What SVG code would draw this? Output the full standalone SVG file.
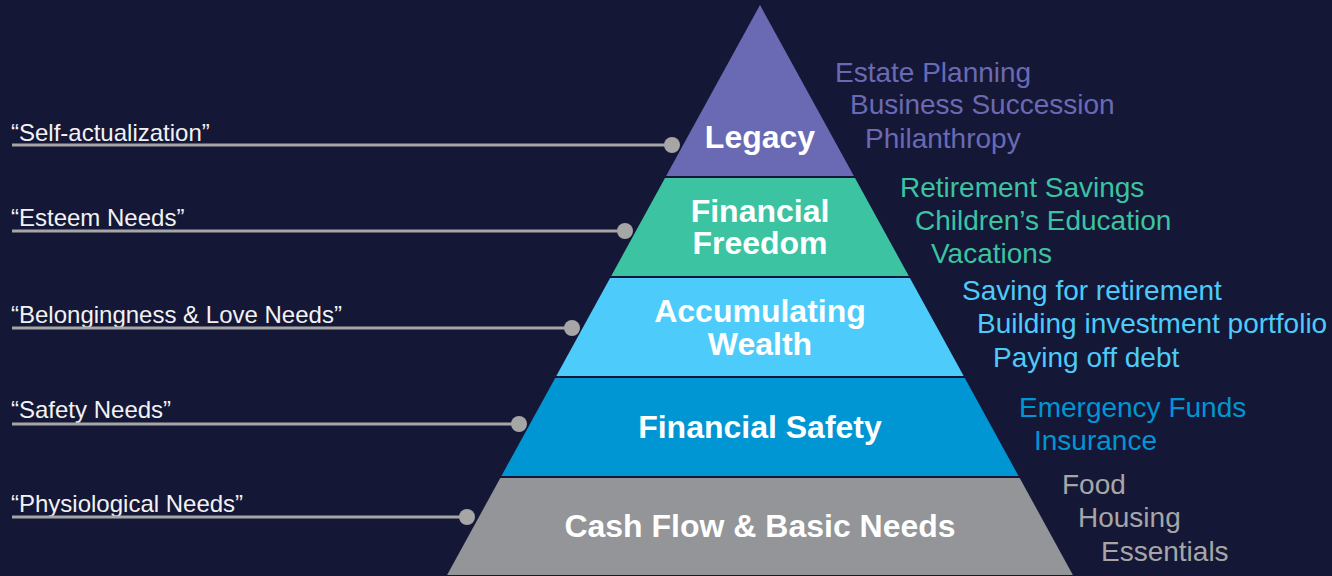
<svg xmlns="http://www.w3.org/2000/svg" width="1332" height="576" viewBox="0 0 1332 576">
  <style>
    .tier-label { font-family: "Liberation Sans", Arial, sans-serif; font-weight: bold; font-size: 32px; fill: #ffffff; text-anchor: middle; }
    .need { font-family: "Liberation Sans", Arial, sans-serif; font-size: 24px; fill: #f2f2f2; }
    .item { font-family: "Liberation Sans", Arial, sans-serif; font-size: 28px; }
    .leader { stroke: #a6a6a6; stroke-width: 3; fill: none; }
    .dot { fill: #a6a6a6; }
  </style>

  <!-- background -->
  <rect x="0" y="0" width="1332" height="576" fill="#151737"/>

  <!-- pyramid tiers -->
  <g id="tier-legacy">
    <polygon points="760,5 853.9,176 666.1,176" fill="#6a6ab4"/>
    <text class="tier-label" x="760" y="148">Legacy</text>
    <g class="item" fill="#6a6ab4">
      <text x="835" y="82">Estate Planning</text>
      <text x="850" y="114">Business Succession</text>
      <text x="865" y="148">Philanthropy</text>
    </g>
  </g>

  <g id="tier-freedom">
    <polygon points="665,178 855,178 908.8,276 611.2,276" fill="#3cc3a2"/>
    <text class="tier-label" x="760" y="222">Financial</text>
    <text class="tier-label" x="760" y="254">Freedom</text>
    <g class="item" fill="#3cc3a2">
      <text x="900" y="197">Retirement Savings</text>
      <text x="915" y="230">Children’s Education</text>
      <text x="931" y="263">Vacations</text>
    </g>
  </g>

  <g id="tier-wealth">
    <polygon points="610.1,278 909.9,278 963.7,376 556.3,376" fill="#4dcbfa"/>
    <text class="tier-label" x="760" y="322">Accumulating</text>
    <text class="tier-label" x="760" y="355">Wealth</text>
    <g class="item" fill="#4dcbfa">
      <text x="962" y="300">Saving for retirement</text>
      <text x="977" y="333">Building investment portfolio</text>
      <text x="993" y="367">Paying off debt</text>
    </g>
  </g>

  <g id="tier-safety">
    <polygon points="555.2,378 964.8,378 1018.6,476 501.4,476" fill="#0095d3"/>
    <text class="tier-label" x="760" y="438">Financial Safety</text>
    <g class="item" fill="#0095d3">
      <text x="1019" y="417">Emergency Funds</text>
      <text x="1034" y="450">Insurance</text>
    </g>
  </g>

  <g id="tier-basic">
    <polygon points="500.3,478 1019.7,478 1072.9,575 447.1,575" fill="#939598"/>
    <text class="tier-label" x="760" y="537">Cash Flow &amp; Basic Needs</text>
    <g class="item" fill="#a6a6a6">
      <text x="1062" y="494">Food</text>
      <text x="1078" y="527">Housing</text>
      <text x="1101" y="561">Essentials</text>
    </g>
  </g>

  <!-- Maslow need labels -->
  <g id="need-self-actualization"><text class="need" x="11" y="141">“Self-actualization”</text></g>
  <g id="need-esteem"><text class="need" x="11" y="226">“Esteem Needs”</text></g>
  <g id="need-belonging"><text class="need" x="11" y="323">“Belongingness &amp; Love Needs”</text></g>
  <g id="need-safety"><text class="need" x="11" y="418">“Safety Needs”</text></g>
  <g id="need-physiological"><text class="need" x="11" y="512">“Physiological Needs”</text></g>

  <!-- leader lines from need labels to tiers -->
  <g id="connectors">
    <line class="leader" x1="12" y1="145" x2="672" y2="145"/>
    <circle class="dot" cx="672" cy="145" r="8"/>
    <line class="leader" x1="12" y1="231" x2="625" y2="231"/>
    <circle class="dot" cx="625" cy="231" r="8"/>
    <line class="leader" x1="12" y1="328" x2="572" y2="328"/>
    <circle class="dot" cx="572" cy="328" r="8"/>
    <line class="leader" x1="12" y1="424" x2="519" y2="424"/>
    <circle class="dot" cx="519" cy="424" r="8"/>
    <line class="leader" x1="12" y1="517" x2="467" y2="517"/>
    <circle class="dot" cx="467" cy="517" r="8"/>
  </g>
</svg>
